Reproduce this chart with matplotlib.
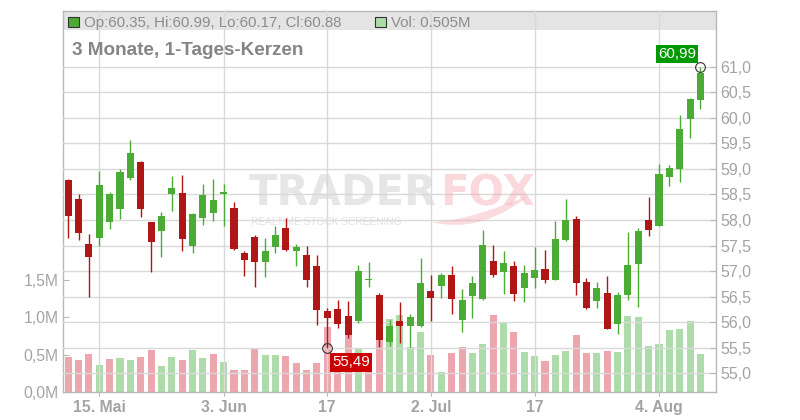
import numpy as np
import matplotlib
matplotlib.use('Agg')
import matplotlib.pyplot as plt
from matplotlib.patches import Rectangle, PathPatch
from matplotlib.path import Path

plt.rcParams['font.family'] = ['Liberation Sans', 'DejaVu Sans']

# Tageskerzen 12.05. - 08.08. (62 Handelstage)
opens = [58.78, 58.41, 57.53, 57.65, 57.97, 58.22, 58.83, 59.14, 57.96, 57.79,
         58.50, 58.53, 57.50, 58.03, 58.14, 58.50, 58.24, 57.35, 57.67, 57.17,
         57.48, 57.84, 57.39, 57.32, 57.10, 56.22, 56.26, 56.12, 56.02, 56.82,
         56.53, 55.62, 56.02, 55.93, 55.93, 56.61, 56.70, 56.92, 56.05, 56.52,
         56.45, 57.20, 56.99, 57.10, 56.66, 56.86, 57.04, 56.83, 57.61, 58.02,
         56.79, 56.42, 56.57, 55.97, 56.54, 57.13, 58.00, 57.89, 58.85, 59.00,
         59.98, 60.35]
highs = [58.80, 58.51, 57.73, 58.96, 58.55, 59.00, 59.57, 59.15, 57.96, 58.16,
         58.86, 58.88, 58.14, 58.70, 58.80, 58.70, 58.35, 57.39, 57.71, 57.65,
         57.88, 58.04, 57.53, 57.49, 57.32, 56.28, 56.43, 56.42, 57.12, 57.18,
         56.57, 56.04, 56.40, 56.17, 57.25, 56.92, 56.96, 57.10, 56.65, 56.90,
         57.80, 57.51, 57.39, 57.20, 57.12, 57.47, 57.41, 57.98, 58.41, 58.08,
         56.86, 56.79, 56.90, 56.59, 57.77, 57.84, 58.45, 59.10, 59.08, 60.05,
         60.39, 60.99]
lows = [57.65, 57.61, 56.50, 57.50, 57.83, 58.01, 58.79, 58.05, 56.99, 57.28,
        58.18, 57.40, 57.36, 57.91, 57.99, 57.89, 57.41, 56.90, 56.68, 56.89,
        57.36, 57.40, 57.09, 56.68, 55.95, 55.49, 55.89, 55.70, 55.99, 56.68,
        55.52, 55.54, 55.60, 55.51, 55.91, 56.02, 56.48, 56.17, 55.81, 56.09,
        56.44, 56.89, 56.55, 56.42, 56.40, 56.66, 56.77, 56.82, 57.58, 56.53,
        56.26, 56.28, 55.87, 55.77, 56.44, 56.30, 57.69, 57.88, 58.67, 58.75,
        59.61, 60.17]
closes = [58.07, 57.75, 57.28, 58.68, 58.51, 58.94, 59.31, 58.22, 57.56, 58.08,
          58.63, 57.63, 58.12, 58.49, 58.39, 58.55, 57.43, 57.22, 57.17, 57.39,
          57.71, 57.41, 57.48, 56.83, 56.23, 56.09, 55.97, 55.75, 57.00, 56.83,
          55.65, 55.93, 55.93, 56.10, 56.77, 56.48, 56.92, 56.45, 56.43, 56.77,
          57.51, 56.92, 57.16, 56.55, 56.96, 57.02, 56.83, 57.63, 58.00, 56.77,
          56.27, 56.67, 55.87, 56.53, 57.12, 57.78, 57.81, 58.90, 59.02, 59.78,
          60.37, 60.88]
# Volumen in Mio. Stueck
volumes = [0.468, 0.428, 0.508, 0.361, 0.441, 0.455, 0.428, 0.468, 0.561, 0.348,
           0.468, 0.428, 0.561, 0.455, 0.508, 0.401, 0.294, 0.294, 0.575, 0.495,
           0.495, 0.481, 0.388, 0.294, 0.388, 0.873, 0.400, 0.762, 0.575, 0.350,
           0.695, 0.976, 1.029, 0.597, 0.802, 0.495, 0.267, 0.521, 0.602, 0.521,
           0.642, 1.029, 0.922, 0.802, 0.535, 0.481, 0.414, 0.495, 0.548, 0.762,
           0.521, 0.521, 0.548, 0.535, 1.016, 1.003, 0.615, 0.642, 0.829, 0.842,
           0.949, 0.505]
# 1 = Volumen gruen, 0 = Volumen rot
vol_up = [0, 0, 0, 1, 0, 1, 1, 0, 0, 1,
          1, 0, 1, 1, 0, 1, 0, 0, 0, 1,
          1, 0, 0, 0, 0, 0, 0, 0, 1, 0,
          0, 1, 1, 1, 1, 0, 1, 0, 0, 1,
          1, 0, 1, 0, 1, 1, 0, 1, 1, 0,
          0, 1, 0, 1, 1, 1, 1, 1, 1, 1,
          1, 1]

tick_idx = [3, 15, 25, 35, 45, 57]
tick_labels = ['15. Mai', '3. Jun', '17', '2. Jul', '17', '4. Aug']
price_ticks = [55.0, 55.5, 56.0, 56.5, 57.0, 57.5, 58.0, 58.5, 59.0, 59.5, 60.0, 60.5, 61.0]
vol_ticks = [0.0, 0.5, 1.0, 1.5]

info_text = 'Op:60.35, Hi:60.99, Lo:60.17, Cl:60.88'
vol_text = 'Vol: 0.505M'
title = '3 Monate, 1-Tages-Kerzen'

GREEN = '#4aac34'
RED = '#b11616'
VGREEN = '#addcaa'
VRED = '#eda6ae'
GRID = '#d9d9d9'
AXIS = '#b8b8b8'
LABEL = '#a3a3a3'

W, H = 800, 420
def fx(px): return px / W
def fy(py): return 1 - py / H

fig = plt.figure(figsize=(8, 4.2), dpi=100)
ax_v = fig.add_axes([fx(63), fy(392), (716 - 63) / W, (392 - 11) / H])
ax_p = ax_v.twinx()

x = np.arange(len(opens))

# Kopfzeile
ax_v.add_patch(Rectangle((0, 1 - 19 / 381), 1, 19 / 381, transform=ax_v.transAxes,
                         fc='#e4e4e4', ec='none', zorder=0))

# Volumen
vcol = [VGREEN if u else VRED for u in vol_up]
ax_v.bar(x, volumes, width=0.68, color=vcol, zorder=1)
ax_v.set_xlim(-0.5, 62.5)
ax_v.set_ylim(0, 5.094)
ax_v.set_yticks(vol_ticks)
ax_v.set_yticklabels([f'{v:.1f}M'.replace('.', ',') for v in vol_ticks])
ax_v.set_xticks(tick_idx)
ax_v.set_xticklabels(tick_labels, fontweight='bold')
ax_v.tick_params(axis='y', direction='in', length=4, color=AXIS, labelcolor=LABEL,
                 labelsize=11.3, pad=3)
ax_v.tick_params(axis='x', direction='out', length=3, color=AXIS, labelcolor=LABEL,
                 labelsize=11.3, pad=2.5)
for s in ax_v.spines.values():
    s.set_color(AXIS)
    s.set_linewidth(1)

# Kurs
ax_p.set_ylim(54.634, 62.09)
ax_p.set_yticks(price_ticks)
ax_p.set_yticklabels([f'{v:.1f}'.replace('.', ',') for v in price_ticks])
ax_p.tick_params(axis='y', direction='in', length=4, color=AXIS, labelcolor=LABEL,
                 labelsize=11.5, pad=3)
for s in ax_p.spines.values():
    s.set_visible(False)
ax_p.set_axisbelow(True)
ax_p.yaxis.grid(True, color=GRID, lw=1)
for t in tick_idx:
    ax_p.axvline(t, color=GRID, lw=1, zorder=0.5)

# Wasserzeichen
ax_p.text(fx(437), fy(205), 'TRADER', transform=fig.transFigure, ha='right', va='baseline',
          family='DejaVu Sans', fontweight='bold', fontsize=30, color='#d6d6d6', alpha=0.6, zorder=0.8)
ax_p.text(fx(440), fy(205), 'FOX', transform=fig.transFigure, ha='left', va='baseline',
          family='DejaVu Sans', fontweight='bold', fontsize=30, color='#f4a9b1', alpha=0.45, zorder=0.8)
ax_p.text(fx(251), fy(225), 'REALTIME STOCK SCREENING', transform=fig.transFigure, ha='left',
          va='baseline', fontsize=7.3, color='#dadada', alpha=0.8, zorder=0.8)
# Fuchsschwanz unter "FOX"
tail = Path([(fx(432), fy(222)), (fx(470), fy(232)), (fx(505), fy(215)), (fx(528), fy(196)),
             (fx(500), fy(206)), (fx(470), fy(220)), (fx(432), fy(222))],
            [Path.MOVETO, Path.CURVE4, Path.CURVE4, Path.CURVE4,
             Path.CURVE4, Path.CURVE4, Path.CURVE4])
ax_p.add_patch(PathPatch(tail, transform=fig.transFigure, fc='#f4a9b1', ec='none',
                         alpha=0.4, zorder=0.8))

# Kerzen
for i in x:
    o, h, l, c = opens[i], highs[i], lows[i], closes[i]
    col = GREEN if c >= o else RED
    ax_p.vlines(i, l, h, color=col, lw=1.0, zorder=2)
    ax_p.bar(i, max(abs(c - o), 0.025), bottom=min(o, c), width=0.68, color=col, zorder=3)

# Hoch / Tief Markierung
hi_i = int(np.argmax(highs))
lo_i = int(np.argmin(lows))
ax_p.plot([hi_i], [highs[hi_i]], 'o', ms=7, mfc='none', mec='#333333', mew=0.8, zorder=5)
ax_p.plot([lo_i], [lows[lo_i]], 'o', ms=7, mfc='none', mec='#333333', mew=0.8, zorder=5)
ax_p.annotate(f'{highs[hi_i]:.2f}'.replace('.', ','), xy=(hi_i, highs[hi_i]),
              xytext=(-4.5, 6), textcoords='offset pixels', ha='right', va='bottom',
              color='white', fontsize=10.8,
              bbox=dict(boxstyle='square,pad=0.15', fc='#009900', ec='none'), zorder=6)
ax_p.annotate(f'{lows[lo_i]:.2f}'.replace('.', ','), xy=(lo_i, lows[lo_i]),
              xytext=(5, -7), textcoords='offset pixels', ha='left', va='top',
              color='white', fontsize=10.8,
              bbox=dict(boxstyle='square,pad=0.15', fc='#cc0000', ec='none'), zorder=6)

# Kopfzeile: Legende + Titel
fig.add_artist(Rectangle((fx(68), fy(27)), 11 / W, 10 / H, transform=fig.transFigure,
                         fc=GREEN, ec='#333333', lw=0.8))
fig.text(fx(84), fy(27), info_text, ha='left', va='baseline', fontsize=10.8, color='#8c8c8c')
fig.add_artist(Rectangle((fx(375), fy(27)), 11 / W, 10 / H, transform=fig.transFigure,
                         fc=VGREEN, ec='#333333', lw=0.8))
fig.text(fx(391), fy(27), vol_text, ha='left', va='baseline', fontsize=10.8, color='#8c8c8c')
fig.text(fx(72), fy(55), title, ha='left', va='baseline', fontsize=13.6,
         fontweight='bold', color='#858585')

fig.savefig('out.png', dpi=100)
